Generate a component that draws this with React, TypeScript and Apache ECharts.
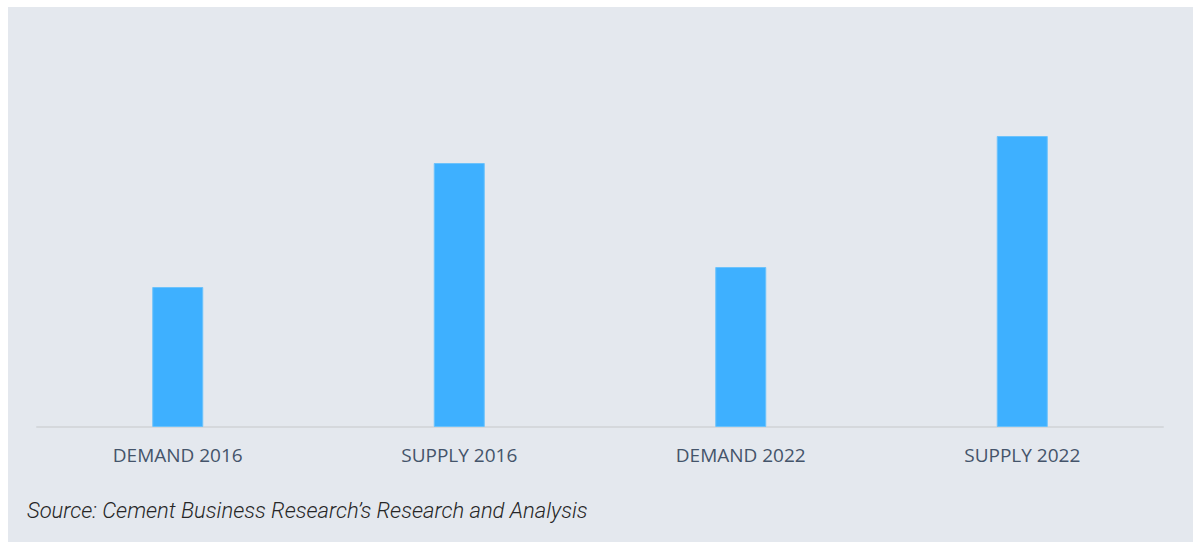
import React, { useEffect, useRef } from "react";
import * as echarts from "echarts";

const categories = ["DEMAND 2016", "SUPPLY 2016", "DEMAND 2022", "SUPPLY 2022"];
const values = [140, 264, 160, 291];
const sourceText = "Source: Cement Business Research\u2019s Research and Analysis";

export default function App() {
  const ref = useRef<HTMLDivElement>(null);
  useEffect(() => {
    if (!ref.current) return;
    const chart = echarts.init(ref.current, null, { renderer: "svg" });
    chart.setOption({
      animation: false,
      backgroundColor: "#e4e8ee",
      grid: { left: 29, right: 30, top: 20, bottom: 115 },
      xAxis: {
        type: "category",
        data: categories,
        axisTick: { show: false },
        axisLine: { lineStyle: { color: "#d5d8dc", width: 2 } },
        axisLabel: {
          color: "#44546a",
          fontFamily: "Open Sans",
          fontSize: 19,
          margin: 18,
        },
      },
      yAxis: {
        type: "value",
        min: 0,
        max: 400,
        show: false,
        splitLine: { show: false },
      },
      series: [
        {
          type: "bar",
          data: values,
          barWidth: 51,
          itemStyle: { color: "#3eb0ff", borderColor: "#6cc2fb", borderWidth: 1 },
        },
      ],
      graphic: [
        {
          type: "text",
          left: 19,
          top: 492,
          style: {
            text: sourceText,
            font: "italic 300 22px Roboto",
            fill: "#262626",
          },
        },
      ],
    });
    return () => chart.dispose();
  }, []);
  return (
    <div
      ref={ref}
      style={{ position: "absolute", left: 8, top: 7, width: 1185, height: 535 }}
    />
  );
}
